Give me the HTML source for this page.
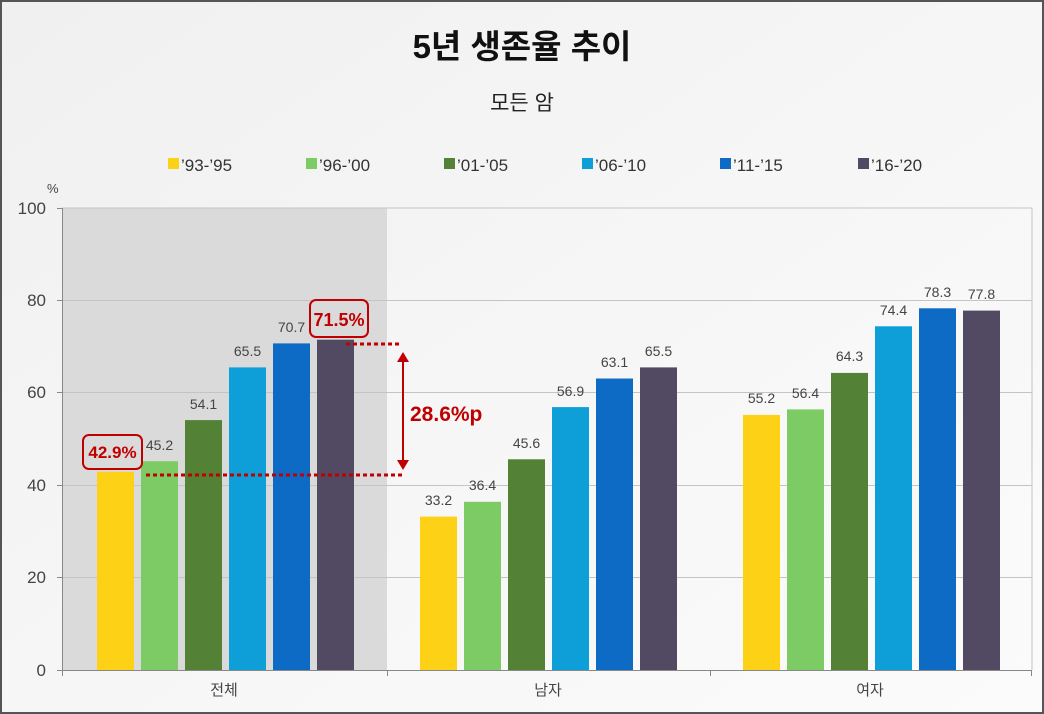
<!DOCTYPE html>
<html><head><meta charset="utf-8"><style>
html,body{margin:0;padding:0;background:#fff}
svg{display:block;font-family:"Liberation Sans","Noto Sans CJK KR",sans-serif}
</style></head><body>
<svg width="1044" height="714" viewBox="0 0 1044 714" xmlns="http://www.w3.org/2000/svg">
<defs><linearGradient id="bg" x1="0" y1="0" x2="1" y2="1"><stop offset="0" stop-color="#f0f0f0"/><stop offset="0.5" stop-color="#f6f6f6"/><stop offset="1" stop-color="#fbfbfb"/></linearGradient></defs>
<rect x="1" y="1" width="1042" height="712" fill="url(#bg)" stroke="#555" stroke-width="2"/>
<rect x="62" y="208" width="325" height="462" fill="#dadada"/>
<g stroke="#c4c4c4" stroke-width="1">
<line x1="62" y1="208" x2="1032" y2="208"/><line x1="62" y1="300.5" x2="1032" y2="300.5"/><line x1="62" y1="392.5" x2="1032" y2="392.5"/><line x1="62" y1="485.5" x2="1032" y2="485.5"/><line x1="62" y1="577.5" x2="1032" y2="577.5"/>
<line x1="1032" y1="208" x2="1032" y2="670"/>
</g>
<g stroke="#888" stroke-width="1"><line x1="62.5" y1="208" x2="62.5" y2="670"/><line x1="57" y1="670.5" x2="1032" y2="670.5"/>
<line x1="57" y1="208.5" x2="62" y2="208.5"/><line x1="57" y1="300.5" x2="62" y2="300.5"/><line x1="57" y1="392.5" x2="62" y2="392.5"/><line x1="57" y1="485.5" x2="62" y2="485.5"/><line x1="57" y1="577.5" x2="62" y2="577.5"/>
<line x1="62.5" y1="670" x2="62.5" y2="676"/><line x1="387.5" y1="670" x2="387.5" y2="676"/><line x1="710.5" y1="670" x2="710.5" y2="676"/><line x1="1031.5" y1="670" x2="1031.5" y2="676"/></g>
<g font-size="17" fill="#444" text-anchor="end"><text x="46" y="214">100</text><text x="46" y="306">80</text><text x="46" y="398">60</text><text x="46" y="491">40</text><text x="46" y="583">20</text><text x="46" y="676">0</text></g>
<text x="47" y="193" font-size="13" fill="#444">%</text>
<g font-size="15" fill="#444" text-anchor="middle"><text x="224" y="695">전체</text><text x="548" y="695">남자</text><text x="870" y="695">여자</text></g>
<text x="522" y="58" font-size="33" font-weight="bold" text-anchor="middle" fill="#111">5년 생존율 추이</text>
<text x="522" y="110" font-size="21" text-anchor="middle" fill="#222">모든 암</text>
<g font-size="17" fill="#333">
<rect x="168" y="158" width="11" height="11" fill="#FCD116"/><text x="181" y="171">’93-’95</text>
<rect x="306" y="158" width="11" height="11" fill="#7DCB64"/><text x="319" y="171">’96-’00</text>
<rect x="444" y="158" width="11" height="11" fill="#538135"/><text x="457" y="171">’01-’05</text>
<rect x="582" y="158" width="11" height="11" fill="#0E9ED8"/><text x="595" y="171">’06-’10</text>
<rect x="720" y="158" width="11" height="11" fill="#0D6BC6"/><text x="733" y="171">’11-’15</text>
<rect x="858" y="158" width="11" height="11" fill="#524A62"/><text x="871" y="171">’16-’20</text>
</g>
<g>
<rect x="97" y="471.8" width="37" height="198.2" fill="#FCD116"/>
<rect x="141" y="461.2" width="37" height="208.8" fill="#7DCB64"/>
<rect x="185" y="420.1" width="37" height="249.9" fill="#538135"/>
<rect x="229" y="367.4" width="37" height="302.6" fill="#0E9ED8"/>
<rect x="273" y="343.4" width="37" height="326.6" fill="#0D6BC6"/>
<rect x="317" y="339.7" width="37" height="330.3" fill="#524A62"/>
<rect x="420" y="516.6" width="37" height="153.4" fill="#FCD116"/>
<rect x="464" y="501.8" width="37" height="168.2" fill="#7DCB64"/>
<rect x="508" y="459.3" width="37" height="210.7" fill="#538135"/>
<rect x="552" y="407.1" width="37" height="262.9" fill="#0E9ED8"/>
<rect x="596" y="378.5" width="37" height="291.5" fill="#0D6BC6"/>
<rect x="640" y="367.4" width="37" height="302.6" fill="#524A62"/>
<rect x="743" y="414.9" width="37" height="255.1" fill="#FCD116"/>
<rect x="787" y="409.4" width="37" height="260.6" fill="#7DCB64"/>
<rect x="831" y="372.9" width="37" height="297.1" fill="#538135"/>
<rect x="875" y="326.3" width="37" height="343.7" fill="#0E9ED8"/>
<rect x="919" y="308.3" width="37" height="361.7" fill="#0D6BC6"/>
<rect x="963" y="310.6" width="37" height="359.4" fill="#524A62"/>
</g>
<g font-size="14" fill="#444" text-anchor="middle">
<text x="159.5" y="450">45.2</text><text x="203.5" y="409">54.1</text><text x="247.5" y="356">65.5</text><text x="291.5" y="332">70.7</text>
<text x="438.5" y="505">33.2</text><text x="482.5" y="490">36.4</text><text x="526.5" y="448">45.6</text><text x="570.5" y="396">56.9</text><text x="614.5" y="367">63.1</text><text x="658.5" y="356">65.5</text>
<text x="761.5" y="403">55.2</text><text x="805.5" y="398">56.4</text><text x="849.5" y="361">64.3</text><text x="893.5" y="315">74.4</text><text x="937.5" y="297">78.3</text><text x="981.5" y="299">77.8</text>
</g>
<rect x="83" y="435" width="59" height="34" rx="6" fill="none" stroke="#C00000" stroke-width="2"/>
<text x="112.5" y="458" font-size="17" font-weight="bold" fill="#C00000" text-anchor="middle">42.9%</text>
<rect x="310" y="300" width="58" height="37" rx="6" fill="none" stroke="#C00000" stroke-width="2"/>
<text x="339" y="326" font-size="18" font-weight="bold" fill="#C00000" text-anchor="middle">71.5%</text>
<g stroke="#C00000" stroke-width="3" stroke-dasharray="4,3">
<line x1="146" y1="475" x2="402" y2="475"/><line x1="346" y1="344" x2="402" y2="344"/></g>
<line x1="403" y1="360" x2="403" y2="462" stroke="#C00000" stroke-width="2"/>
<polygon points="397,362 409,362 403,352" fill="#C00000"/><polygon points="397,460 409,460 403,470" fill="#C00000"/>
<text x="410" y="421" font-size="21" font-weight="bold" fill="#C00000">28.6%p</text>
</svg>
</body></html>
